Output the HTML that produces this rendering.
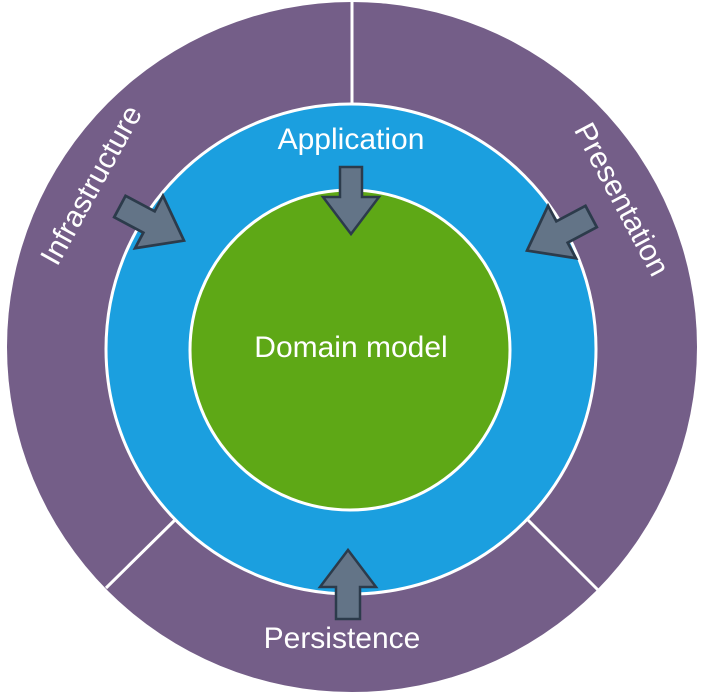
<!DOCTYPE html>
<html><head><meta charset="utf-8"><style>
html,body{margin:0;padding:0;background:#fff;}
svg{display:block;}
text{font-family:"Liberation Sans",sans-serif;fill:#fff;}
</style></head><body>
<svg width="720" height="695" viewBox="0 0 720 695">
<circle cx="352" cy="347" r="345" fill="#745e88"/>
<line x1="352" y1="0" x2="352" y2="110" stroke="#fff" stroke-width="3"/>
<line x1="178" y1="517" x2="106" y2="588" stroke="#fff" stroke-width="3"/>
<line x1="525" y1="517" x2="598" y2="590" stroke="#fff" stroke-width="3"/>
<circle cx="351" cy="349" r="245" fill="#1b9fdf" stroke="#fff" stroke-width="3"/>
<circle cx="350" cy="350" r="160" fill="#5ea816" stroke="#fff" stroke-width="3"/>
<g fill="#637487" stroke="#2c3b4b" stroke-width="2.5" stroke-linejoin="miter">
<polygon transform="translate(351,197)" points="-11,-30 11,-30 11,0 28,0 0,37 -28,0 -11,0"/>
<polygon transform="translate(149,222) rotate(-62) scale(1.1)" points="-11,-30 11,-30 11,0 27,0 0,36 -27,0 -11,0"/>
<polygon transform="translate(562,232) rotate(62) scale(1.1)" points="-11,-30 11,-30 11,0 27,0 0,36 -27,0 -11,0"/>
<polygon transform="translate(348,587) rotate(180)" points="-12,-32 12,-32 12,0 28,0 0,37 -28,0 -12,0"/>
</g>
<text x="351" y="149" font-size="30" text-anchor="middle">Application</text>
<text x="351" y="357" font-size="30" text-anchor="middle">Domain model</text>
<text x="342" y="648" font-size="30" text-anchor="middle">Persistence</text>
<text transform="translate(100,190) rotate(-61)" font-size="30" text-anchor="middle">Infrastructure</text>
<text transform="translate(613,204) rotate(62)" font-size="30" text-anchor="middle">Presentation</text>
</svg>
</body></html>
